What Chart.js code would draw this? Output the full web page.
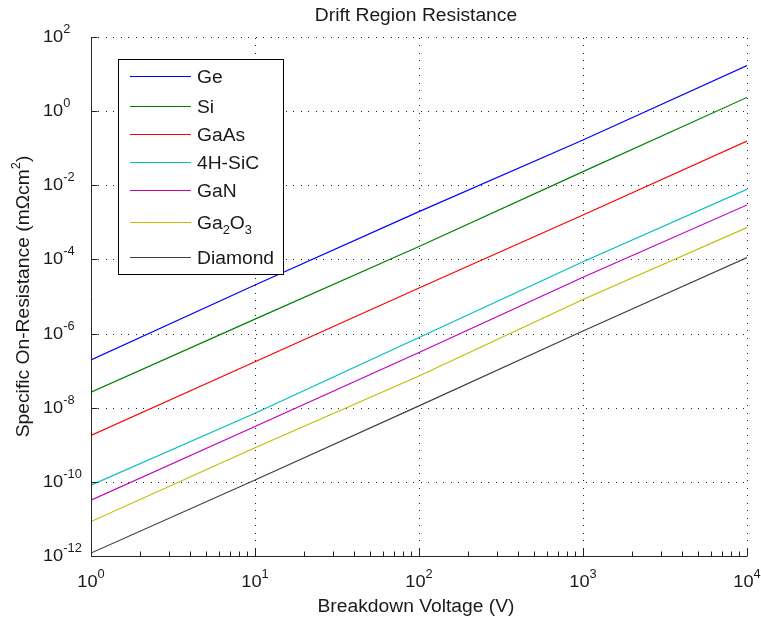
<!DOCTYPE html>
<html>
<head>
<meta charset="utf-8">
<script src="https://cdn.jsdelivr.net/npm/chart.js@4.4.0/dist/chart.umd.min.js"></script>
<style>
body { margin: 0; background: #fff; }
#wrap { width: 761px; height: 622px; }
</style>
</head>
<body>
<div id="wrap"><canvas id="driftChart" width="761" height="622"></canvas></div>
<script>
// breakdown voltage (V) and specific on-resistance (mOhm cm^2) per material
var voltage = [1, 10, 100, 1000, 10000];
var materials = ["Ge", "Si", "GaAs", "4H-SiC", "GaN", "Ga2O3", "Diamond"];
var ron_ge = [1.95e-7, 2.04e-5, 1.95e-3, 0.166, 17.0];
var ron_si = [2.63e-8, 2.45e-6, 2.24e-4, 0.0234, 2.34];
var ron_gaas = [1.78e-9, 1.74e-7, 1.70e-5, 1.58e-3, 0.155];
var ron_sic = [8.1e-11, 7.1e-9, 7.8e-7, 8.7e-5, 7.8e-3];
var ron_gan = [3.2e-11, 3.1e-9, 3.1e-7, 3.3e-5, 2.95e-3];
var ron_ga2o3 = [8.5e-12, 8.3e-10, 7.2e-8, 8.3e-6, 7.2e-4];
var ron_diamond = [1.2e-12, 1.12e-10, 1.12e-8, 1.17e-6, 1.12e-4];
var ron_all = [ron_ge, ron_si, ron_gaas, ron_sic, ron_gan, ron_ga2o3, ron_diamond];
var lineColors = ["#0000ff", "#008000", "#ff0000", "#00bfbf", "#bf00bf", "#bfbf00", "#404040"];

// decade exponents that get a label
var xTickExp = [0, 1, 2, 3, 4];
var yTickExp = [2, 0, -2, -4, -6, -8, -10, -12];

var FONT = '"Liberation Sans", Arial, Helvetica, sans-serif';
var STRETCH = 1.07;

function textWidth(ctx, s, size) {
    ctx.font = size + "px " + FONT;
    return ctx.measureText(s).width * STRETCH;
}

function putText(ctx, s, x, y, size) {
    ctx.save();
    ctx.font = size + "px " + FONT;
    ctx.textAlign = "left";
    ctx.textBaseline = "alphabetic";
    ctx.translate(x, y);
    ctx.scale(STRETCH, 1);
    ctx.fillText(s, 0, 0);
    ctx.restore();
    return textWidth(ctx, s, size);
}

// "10" with a raised exponent, returns the width
function powerWidth(ctx, e) {
    return textWidth(ctx, "10", 17) + textWidth(ctx, String(e), 12);
}
function drawPower(ctx, e, x, y) {
    var w = putText(ctx, "10", x, y, 17);
    putText(ctx, String(e), x + w, y - 9, 12);
}

// chemical formula: digits after a letter go down as subscripts
function drawFormula(ctx, s, x, y) {
    for (var i = 0; i < s.length; i++) {
        var c = s[i];
        if (/[0-9]/.test(c) && i > 0 && /[A-Za-z]/.test(s[i - 1])) {
            x += putText(ctx, c, x, y + 5, 12);
        } else {
            x += putText(ctx, c, x, y, 18);
        }
    }
}

var axesPlugin = {
    id: "matlabAxes",
    beforeDatasetsDraw: function(chart) {
        var ctx = chart.ctx;
        var area = chart.chartArea;
        var xs = chart.scales.x, ys = chart.scales.y;
        ctx.save();
        ctx.strokeStyle = "#222";
        ctx.lineWidth = 1;
        ctx.setLineDash([1, 6, 1, 7]);
        xTickExp.forEach(function(e) {
            var px = Math.round(xs.getPixelForValue(Math.pow(10, e))) + 0.5;
            ctx.beginPath();
            ctx.moveTo(px, area.bottom);
            ctx.lineTo(px, area.top);
            ctx.stroke();
        });
        yTickExp.forEach(function(e) {
            var py = Math.round(ys.getPixelForValue(Math.pow(10, e))) + 0.5;
            ctx.beginPath();
            ctx.moveTo(area.left, py);
            ctx.lineTo(area.right, py);
            ctx.stroke();
        });
        ctx.restore();
    },
    afterDraw: function(chart) {
        var ctx = chart.ctx;
        var area = chart.chartArea;
        var xs = chart.scales.x, ys = chart.scales.y;
        var left = Math.round(area.left) + 0.5;
        var bottom = Math.round(area.bottom) + 0.5;

        ctx.save();
        ctx.strokeStyle = "#262626";
        ctx.lineWidth = 1;
        ctx.beginPath();
        ctx.moveTo(left, area.top);
        ctx.lineTo(left, bottom);
        ctx.lineTo(area.right, bottom);
        ctx.stroke();

        // x ticks, majors at decades and minors at 2..9
        for (var d = 0; d < 4; d++) {
            for (var m = 1; m <= 10; m++) {
                var v = m * Math.pow(10, d);
                var px = Math.round(xs.getPixelForValue(v)) + 0.5;
                var len = (m === 1 || m === 10) ? 8 : 5;
                ctx.beginPath();
                ctx.moveTo(px, bottom);
                ctx.lineTo(px, bottom - len);
                ctx.stroke();
            }
        }
        yTickExp.forEach(function(e) {
            var py = Math.round(ys.getPixelForValue(Math.pow(10, e))) + 0.5;
            ctx.beginPath();
            ctx.moveTo(left, py);
            ctx.lineTo(left + 6, py);
            ctx.stroke();
        });

        ctx.fillStyle = "#1a1a1a";
        xTickExp.forEach(function(e) {
            var px = xs.getPixelForValue(Math.pow(10, e));
            drawPower(ctx, e, px - powerWidth(ctx, e) / 2, 587);
        });
        yTickExp.forEach(function(e) {
            var py = ys.getPixelForValue(Math.pow(10, e));
            drawPower(ctx, e, 43, py + 5);
        });

        // title and axis labels
        var midX = (area.left + area.right) / 2 - 3;
        var t = "Drift Region Resistance";
        putText(ctx, t, midX - textWidth(ctx, t, 18) / 2, 21, 18);
        t = "Breakdown Voltage (V)";
        putText(ctx, t, midX - textWidth(ctx, t, 18) / 2, 612, 18);

        var yt1 = "Specific On-Resistance (m\u03A9cm";
        var w1 = textWidth(ctx, yt1, 18), w2 = textWidth(ctx, "2", 12), w3 = textWidth(ctx, ")", 18);
        ctx.save();
        ctx.translate(29, (area.top + area.bottom) / 2);
        ctx.rotate(-Math.PI / 2);
        var sx = -(w1 + w2 + w3) / 2;
        putText(ctx, yt1, sx, 0, 18);
        putText(ctx, "2", sx + w1, -9, 12);
        putText(ctx, ")", sx + w1 + w2, 0, 18);
        ctx.restore();

        // legend box
        var rows = [76, 106, 134, 162, 190, 222, 257];
        ctx.fillStyle = "#fff";
        ctx.fillRect(118, 59, 165, 215);
        ctx.strokeStyle = "#000";
        ctx.strokeRect(118.5, 59.5, 165, 215);
        for (var i = 0; i < materials.length; i++) {
            ctx.strokeStyle = lineColors[i];
            ctx.beginPath();
            ctx.moveTo(130, rows[i] + 0.5);
            ctx.lineTo(191, rows[i] + 0.5);
            ctx.stroke();
            ctx.fillStyle = "#1a1a1a";
            drawFormula(ctx, materials[i], 197, rows[i] + 7);
        }
        ctx.restore();
    }
};

function pageLoad() {
    var datasets = [];
    for (var i = 0; i < materials.length; i++) {
        var pts = [];
        for (var j = 0; j < voltage.length; j++) {
            pts.push({x: voltage[j], y: ron_all[i][j]});
        }
        datasets.push({
            label: materials[i],
            data: pts,
            borderColor: lineColors[i],
            borderWidth: 1.2,
            pointRadius: 0,
            tension: 0,
            fill: false
        });
    }

    var ctx = document.getElementById("driftChart");
    var driftChart = new Chart(ctx, {
        type: "line",
        data: {datasets: datasets},
        options: {
            responsive: false,
            animation: false,
            events: [],
            layout: {padding: {left: 91, right: 14, top: 37, bottom: 66}},
            plugins: {legend: {display: false}, title: {display: false}, tooltip: {enabled: false}},
            scales: {
                x: {type: "logarithmic", min: 1, max: 10000, display: false},
                y: {type: "logarithmic", min: 1e-12, max: 100, display: false}
            }
        },
        plugins: [axesPlugin]
    });
}

window.onload = pageLoad;
</script>
</body>
</html>
